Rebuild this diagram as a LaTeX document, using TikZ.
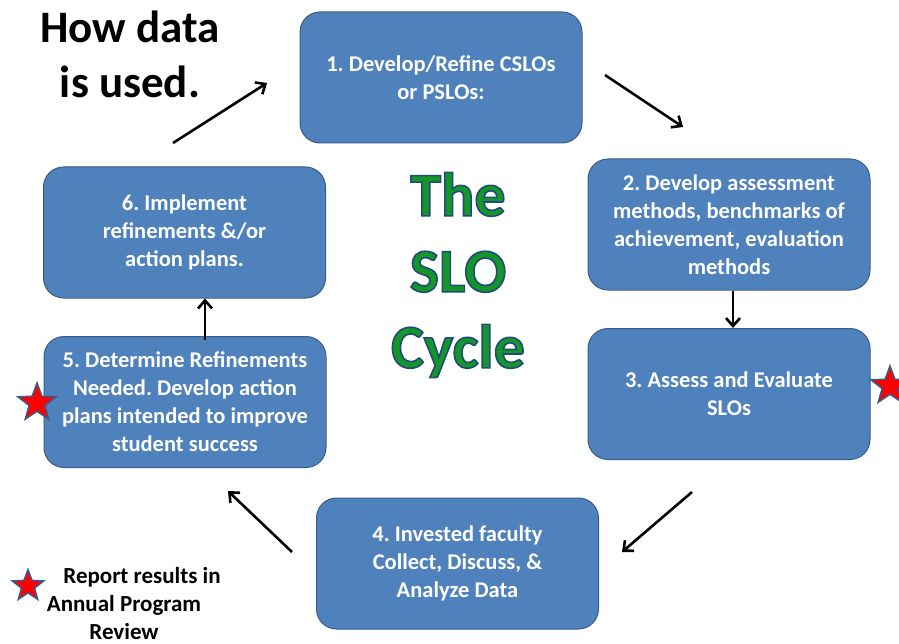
\documentclass[tikz,border=0pt]{standalone}
\usepackage{fontspec}
\setmainfont{Carlito}
\usepackage{tikz}
\usetikzlibrary{
  positioning,
  arrows.meta,
  shapes.geometric
}
\definecolor{boxblue}{RGB}{79,129,189}
\definecolor{boxedge}{RGB}{56,93,138}
\definecolor{slogreen}{RGB}{20,150,40}
\tikzstyle{stepbox}=[draw=boxedge, fill=boxblue, line width=1pt, rounded corners=20pt, text=white, align=center, inner sep=0pt, minimum width=282pt, minimum height=131pt, font=\fontsize{22.5}{28}\selectfont\bfseries]
\tikzstyle{flow}=[-{Straight Barb[length=8pt, width=14pt]}, line width=2.6pt]
\tikzstyle{redstar}=[star, star points=5, star point ratio=2.4, fill=red, draw=boxedge, line width=1.5pt, inner sep=0pt]
% 青い縁取りの文字
\newcommand{\outlined}[1]{\special{pdf:code q 2 Tr 1.6 w 0.12 0.29 0.49 RG}#1\special{pdf:code Q}}

\begin{document}
\frenchspacing
\begin{tikzpicture}[x=1pt, y=-1pt]
        \useasboundingbox (0,0) rectangle (899,644);

        % 各ステップの箱
        \node[stepbox] (S1) at (441,77.5) {1. Develop/Refine CSLOs\\or PSLOs:};
        \node[stepbox] (S2) at (729,224.5) {2. Develop assessment\\methods, benchmarks of\\achievement, evaluation\\methods};
        \node[stepbox] (S3) at (729,394) {3. Assess and Evaluate\\SLOs};
        \node[stepbox] (S4) at (457.5,563.5) {4. Invested faculty\\Collect, Discuss, \&\\Analyze Data};
        \node[stepbox] (S5) at (185,402) {5. Determine Refinements\\Needed. Develop action\\plans intended to improve\\student success};
        \node[stepbox] (S6) at (184.5,232.5) {6. Implement\\refinements \&/or\\action plans.};

        % 見出し
        \node[align=center, font=\fontsize{45}{55}\selectfont\bfseries] (title) at (130,54) {How data\\is used.};

        % 中央の文字
        \node[align=center, text=slogreen, font=\fontsize{62}{76}\selectfont\bfseries] (cycle) at (458,275)
          {\outlined{The}\\\outlined{SLO}\\\outlined{Cycle}};

        % 矢印の端点
        \coordinate (A1s) at (605,75);
        \coordinate (A1e) at (683,127);
        \coordinate (A3s) at (692,492);
        \coordinate (A3e) at (622,552);
        \coordinate (A4s) at (292,552);
        \coordinate (A4e) at (228,491);
        \coordinate (A6s) at (173,143);
        \coordinate (A6e) at (267,83);

        % 矢印
        \draw[flow] (A1s) -- (A1e);
        \draw[flow] (S2.south -| 733,0) -- (S3.north -| 733,0);
        \draw[flow] (A3s) -- (A3e);
        \draw[flow] (A4s) -- (A4e);
        \draw[flow] ([yshift=-4pt]S5.north -| 205,0) -- (S6.south -| 205,0);
        \draw[flow] (A6s) -- (A6e);

        % 星印
        \node[redstar, minimum size=40pt] (starL) at (37,403) {};
        \node[redstar, minimum size=40pt] (starR) at (890,386) {};
        \node[redstar, minimum size=33pt] (starK) at (28,586) {};

        % 凡例
        \node[align=center, font=\fontsize{23}{28}\selectfont\bfseries] (legend) at (124,604)
          {\hspace*{36pt}Report results in\\Annual Program\\Review};
      \end{tikzpicture}
\end{document}
